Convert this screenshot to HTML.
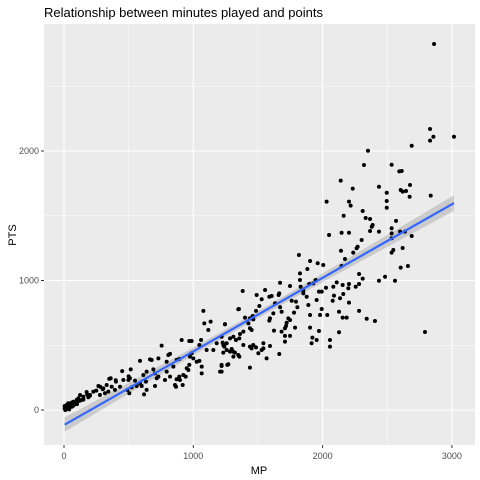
<!DOCTYPE html>
<html><head><meta charset="utf-8"><style>
body{margin:0;background:#fff;}
svg{display:block;font-family:"Liberation Sans",Arial,sans-serif;}
</style></head><body>
<svg id="chart" width="480" height="480" xmlns="http://www.w3.org/2000/svg">
<rect x="0" y="0" width="480" height="480" fill="#fff"/>
<text x="44" y="17" font-size="13" fill="#000">Relationship between minutes played and points</text>
<rect x="44" y="24" width="431" height="421" fill="#EBEBEB"/>
<g id="grid"></g>
<g id="band"></g>
<g id="pts"></g>
<g id="axes"></g>
<text x="259" y="474" font-size="11" fill="#000" text-anchor="middle">MP</text>
<text x="0" y="0" font-size="11" fill="#000" text-anchor="middle" transform="translate(16,235) rotate(-90)">PTS</text>
</svg>
<script>
const xTicks=[0,1000,2000,3000];
const yTicks=[0,1000,2000];
const xMinor=[500,1500,2500];
const yMinor=[500,1500,2500];
const mp=[2862,2831,2857,2831,3016,2689,2351,2320,2534,2593,2612,2140,2436,2233,2604,2619,2645,2676,2496,2673,2836,2031,2204,2217,2496,2496,2310,2163,2333,2367,2387,2380,2568,2050,2147,2204,2367,2436,2534,2534,2534,2599,2637,2689,2302,2271,2263,2237,2142,2173,2147,2619,2547,2534,2604,2660,2005,2282,2310,2204,2155,2109,2083,2026,1993,2256,2282,2199,2088,2160,2135,2078,2204,2436,2483,2560,1993,2036,2127,2155,2186,2282,2341,2405,2792,2127,2057,2057,
1817,1903,1962,1825,1882,1671,1825,1382,1555,1490,1588,1606,1665,1660,1748,1830,1851,1897,1928,1946,1529,1761,1794,1805,1877,1890,1972,1954,1851,1353,1485,1511,1632,1671,1683,1779,1400,1438,1459,1426,1464,1593,1588,1619,1735,1748,1722,1717,1709,1787,1903,1980,1903,1972,1624,1683,1709,1748,1709,1921,1915,1954,1438,1451,1387,1361,1356,1245,1219,1310,1284,1330,1258,1232,1464,1485,1438,1451,1387,1542,1593,1529,1542,1297,1310,1356,1348,1503,1567,1665,1258,1232,1219,1263,1438,1219,
1078,1085,1134,1116,1245,1348,755,910,969,987,1060,1047,1103,1155,1181,1227,1240,1284,1322,588,516,665,678,730,794,807,820,871,892,974,987,969,949,962,923,892,941,1000,1047,1026,1065,1065,1219,1207,1271,1297,1310,704,691,717,730,781,794,820,846,871,858,918,866,897,639,614,634,704,619,639,361,402,459,498,510,549,588,562,601,523,490,505,266,304,330,369,433,394,317,343,278,227,175,124,150,188,98,72,33,21,5,46,8,5,98,137,201,72,85,59,111,
10,20,30,40,50,60,80,100,120,150,180,200,250,280,300,350,400,450,500];
const pts=[2826,2170,2110,2080,2110,2041,2002,1892,1894,1843,1846,1771,1724,1709,1699,1686,1691,1737,1678,1647,1655,1609,1609,1578,1614,1562,1537,1500,1483,1475,1429,1415,1460,1351,1369,1369,1382,1377,1403,1364,1326,1377,1377,1344,1313,1261,1249,1215,1230,1166,1112,1251,1236,1215,1099,1112,1120,1050,1014,973,965,986,952,944,914,952,973,940,883,896,863,844,829,998,1029,998,780,734,759,713,713,765,705,687,602,600,541,489,
1197,1151,1133,1055,1089,983,1004,919,927,888,875,880,901,888,958,952,922,973,978,1004,855,844,837,793,875,811,914,849,901,780,765,803,824,793,759,752,713,708,726,669,700,708,690,746,708,695,674,649,631,636,734,734,636,610,613,605,572,572,528,559,515,541,631,618,605,587,553,662,566,566,553,541,515,502,502,484,489,476,502,515,494,463,476,471,450,412,425,438,399,432,463,443,348,348,327,296,
765,669,682,618,662,778,497,541,533,533,541,502,463,463,515,520,489,451,443,379,314,391,386,399,373,425,433,386,394,412,438,348,322,309,270,258,258,399,379,373,335,283,340,296,353,463,412,283,314,245,258,232,296,258,335,237,193,193,180,232,296,270,219,185,121,155,245,219,232,232,245,227,206,185,185,175,155,129,185,167,193,180,180,155,129,142,116,142,139,116,103,98,77,64,52,39,31,26,13,13,52,77,116,34,46,57,90,
0,10,20,5,30,25,50,45,70,80,120,110,150,180,160,240,230,300,260];
const NS="http://www.w3.org/2000/svg";
const X0=44,X1=475,Y0=24,Y1=445;
function sx(v){return 64+v*0.1293;}
function sy(v){return 410-v*0.1295;}
function mk(tag,attrs,parent){const e=document.createElementNS(NS,tag);for(const k in attrs)e.setAttribute(k,attrs[k]);parent.appendChild(e);return e;}
const grid=document.getElementById('grid'),axes=document.getElementById('axes');
xMinor.forEach(v=>{const l=mk('line',{x1:sx(v),x2:sx(v),y1:Y0,y2:Y1,stroke:'#fff','stroke-width':0.5},grid);
});
yMinor.forEach(v=>{if(sy(v)<Y0)return;const l=mk('line',{x1:X0,x2:X1,y1:sy(v),y2:sy(v),stroke:'#fff','stroke-width':0.5},grid);
});
xTicks.forEach(v=>{const l=mk('line',{x1:sx(v),x2:sx(v),y1:Y0,y2:Y1,stroke:'#fff','stroke-width':1.1},grid);

const t=mk('line',{x1:sx(v),x2:sx(v),y1:Y1,y2:Y1+3,stroke:'#333','stroke-width':1},axes);

const tx=mk('text',{x:sx(v),y:Y1+14,'font-size':9,fill:'#4D4D4D','text-anchor':'middle'},axes);tx.textContent=v;
});
yTicks.forEach(v=>{const l=mk('line',{x1:X0,x2:X1,y1:sy(v),y2:sy(v),stroke:'#fff','stroke-width':1.1},grid);

const t=mk('line',{x1:X0-3,x2:X0,y1:sy(v),y2:sy(v),stroke:'#333','stroke-width':1},axes);

const tx=mk('text',{x:X0-5,y:sy(v)+3,'font-size':9,fill:'#4D4D4D','text-anchor':'end'},axes);tx.textContent=v;
});
// points
const pg=document.getElementById('pts');
for(let i=0;i<mp.length;i++){const c=mk('circle',{cx:sx(mp[i]),cy:sy(pts[i]),r:2,fill:'#000'},pg);
}
// linear regression
const n=mp.length;let mx=0,my=0;for(let i=0;i<n;i++){mx+=mp[i];my+=pts[i];}mx/=n;my/=n;
let sxx=0,sxy=0;for(let i=0;i<n;i++){sxx+=(mp[i]-mx)**2;sxy+=(mp[i]-mx)*(pts[i]-my);}
const b=sxy/sxx,a=my-b*mx;let sse=0;for(let i=0;i<n;i++)sse+=(pts[i]-a-b*mp[i])**2;
const s=Math.sqrt(sse/(n-2));
const xmin=Math.min(...mp),xmax=Math.max(...mp);
const up=[],lo=[];for(let k=0;k<=40;k++){const xv=xmin+(xmax-xmin)*k/40;const se=1.97*s*Math.sqrt(1/n+(xv-mx)**2/sxx);const yv=a+b*xv;
up.push(sx(xv)+','+sy(yv+se));lo.unshift(sx(xv)+','+sy(yv-se));}
const bg=document.getElementById('band');
const poly=mk('polygon',{points:up.concat(lo).join(' '),fill:'#999','fill-opacity':0.4},bg);

const ln=mk('line',{x1:sx(xmin),y1:sy(a+b*xmin),x2:sx(xmax),y2:sy(a+b*xmax),stroke:'#3366FF','stroke-width':2.2},pg);

</script>
</body></html>
